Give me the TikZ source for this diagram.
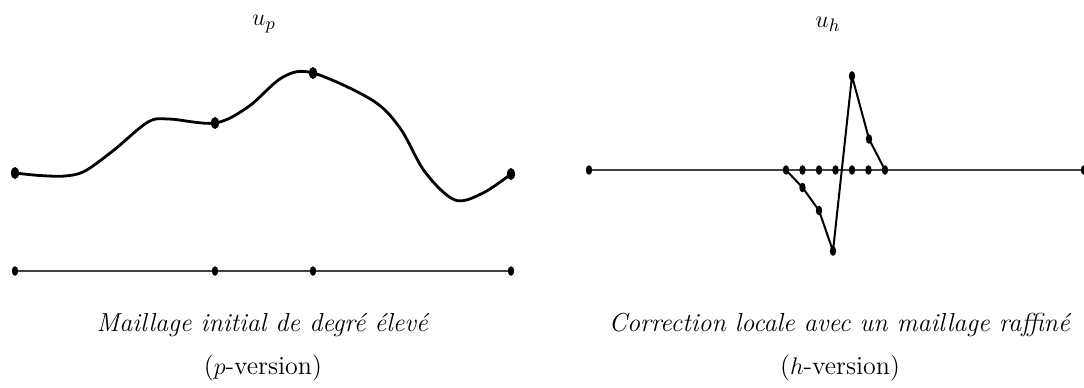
\documentclass[tikz,border=0pt]{standalone}
\usetikzlibrary{shapes.geometric}
\begin{document}
\begin{tikzpicture}[x=0.5pt,y=-0.5pt,
  bigdot/.style={ellipse,fill=black,inner sep=0pt,minimum width=4pt,minimum height=6pt},
  smalldot/.style={ellipse,fill=black,inner sep=0pt,minimum width=3.2pt,minimum height=4.8pt},
  curve/.style={line width=1.4pt,black},
  axis/.style={line width=0.75pt,black!75},
  seg/.style={line width=1pt,black},
  lbl/.style={inner sep=0pt,font=\fontsize{13}{15}\selectfont}]
\useasboundingbox (0,0) rectangle (1084,387);
% left: p-version
\coordinate (A) at (15,173);
\coordinate (B) at (215,123);
\coordinate (C) at (313,73);
\coordinate (D) at (511,174);
\draw[curve] plot[smooth,tension=0.55] coordinates {(A) (40,175.5) (65,176) (85,171) (114,150) (148,122) (169,119) (B) (248,107) (283,77) (C) (372,100) (400,128) (425,172) (455,200) (483,193) (D)};
\foreach \n in {A,B,C,D} \node[bigdot] at (\n) {};
\coordinate (a0) at (15,271);
\coordinate (a1) at (215,271);
\coordinate (a2) at (313,271);
\coordinate (a3) at (511,271);
\draw[axis] (a0) -- (a3);
\foreach \n in {a0,a1,a2,a3} \node[smalldot] at (\n) {};
\node[lbl] (up) at (264,24) {$u_p$};
\node[lbl] (cp1) at (263,325) {\textit{Maillage initial de degré élevé}};
\node[lbl] (cp2) at (263,368) {($p$-version)};
% right: h-version
\coordinate (L) at (589,170);
\coordinate (R) at (1084,170);
\draw[axis] (L) -- (R);
\coordinate (h0) at (786,170);
\coordinate (h1) at (802.5,170);
\coordinate (h2) at (819,170);
\coordinate (h3) at (835.5,170);
\coordinate (h4) at (852,170);
\coordinate (h5) at (868.5,170);
\coordinate (h6) at (885,170);
\coordinate (q1) at (802.5,187.5);
\coordinate (q2) at (819,210.5);
\coordinate (q3) at (833,251);
\coordinate (q4) at (852,76);
\coordinate (q5) at (869,139);
\draw[seg] (h0) -- (q1) -- (q2) -- (q3) -- (q4) -- (q5) -- (h6);
\foreach \n in {L,R,h0,h1,h2,h3,h4,h5,h6,q1,q2,q3,q4,q5} \node[smalldot] at (\n) {};
\node[lbl] (uh) at (828,24) {$u_h$};
\node[lbl] (ch1) at (840,325) {\textit{Correction locale avec un maillage raffiné}};
\node[lbl] (ch2) at (840,368) {($h$-version)};
\end{tikzpicture}
\end{document}
